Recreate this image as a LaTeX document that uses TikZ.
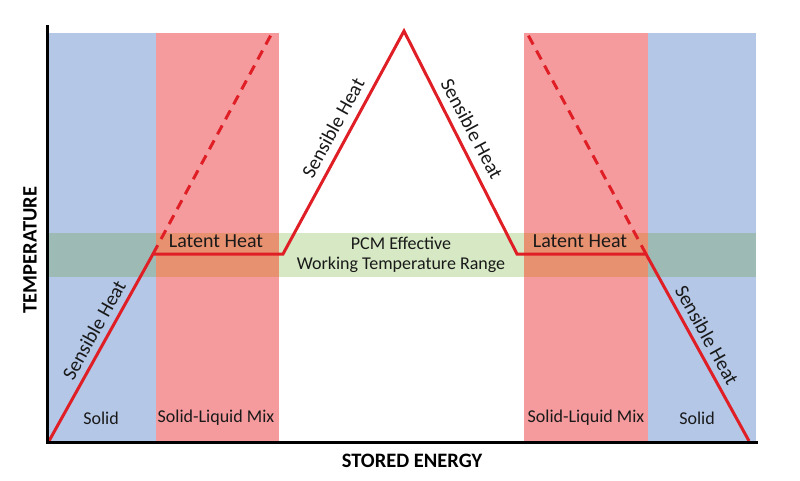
\documentclass[tikz,border=0pt]{standalone}
\usepackage{fontspec}
\setmainfont{Carlito}
\definecolor{blueR}{RGB}{180,199,231}
\definecolor{pinkR}{RGB}{245,155,157}
\definecolor{bandG}{RGB}{214,232,196}
\definecolor{bandB}{RGB}{157,186,180}
\definecolor{bandP}{RGB}{232,145,112}
\definecolor{lineR}{RGB}{224,30,38}
\definecolor{txt}{RGB}{25,25,25}
\tikzset{
  curve/.style={draw=lineR, line width=3pt, line join=miter},
  dcurve/.style={draw=lineR, line width=3pt, dash pattern=on 10pt off 7pt},
  lbl/.style={font=\fontsize{18}{21}\selectfont, text=txt, inner sep=0pt},
  biglbl/.style={font=\fontsize{20}{23}\selectfont, text=txt, inner sep=0pt},
  axlbl/.style={font=\fontsize{20.5}{23}\selectfont\bfseries, text=black, inner sep=0pt},
}
\begin{document}
\begin{tikzpicture}[x=1pt,y=-1pt]
\useasboundingbox (0,0) rectangle (800,480);
% regions
\fill[blueR] (49,33) rectangle (156,441);
\fill[pinkR] (156,33) rectangle (279,441);
\fill[pinkR] (524,33) rectangle (648,441);
\fill[blueR] (648,33) rectangle (756,441);
% band
\fill[bandB] (49,233) rectangle (156,277);
\fill[bandP] (156,233) rectangle (279,277);
\fill[bandG] (279,233) rectangle (524,277);
\fill[bandP] (524,233) rectangle (648,277);
\fill[bandB] (648,233) rectangle (756,277);
% curve points
\coordinate (o1) at (49,441);
\coordinate (m1) at (153,254);
\coordinate (m2) at (283,254);
\coordinate (top) at (404,31);
\coordinate (m3) at (517,254);
\coordinate (m4) at (646,254);
\coordinate (o2) at (749,441);
\coordinate (d1) at (272,33);
\coordinate (d2) at (527,33);
\draw[dcurve] (m1) -- (d1);
\draw[dcurve] (m4) -- (d2);
\draw[curve] (o1) -- (m1) -- (m2) -- (top) -- (m3) -- (m4) -- (o2);
% axes
\coordinate (ytop) at (47,25);
\coordinate (orig) at (47,442);
\coordinate (xend) at (758,442);
\draw[black, line width=3pt] (ytop) -- (orig) -- (xend);
% texts
\node[biglbl] (lh1) at (216,241) {Latent Heat};
\node[biglbl] (lh2) at (580,241) {Latent Heat};
\node[lbl] (pcm1) at (401,243) {PCM Effective};
\node[lbl] (pcm2) at (401,265) {Working Temperature Range};
\node[lbl] (s1) at (101,418) {Solid};
\node[lbl] (slm1) at (216,418) {Solid-Liquid Mix};
\node[lbl] (slm2) at (586,418) {Solid-Liquid Mix};
\node[lbl] (s2) at (697,418) {Solid};
\node[biglbl, rotate=61] (sh1) at (94,330) {Sensible Heat};
\node[biglbl, rotate=61.5] (sh2) at (333,128) {Sensible Heat};
\node[biglbl, rotate=-62] (sh3) at (472,129) {Sensible Heat};
\node[biglbl, rotate=-61] (sh4) at (707,335) {Sensible Heat};
\node[axlbl, rotate=90] (ylab) at (30,250) {TEMPERATURE};
\node[axlbl] (xlab) at (412,461) {STORED ENERGY};
\end{tikzpicture}
\end{document}
